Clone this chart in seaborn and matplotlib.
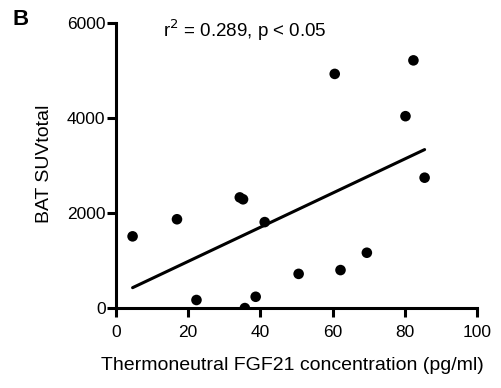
import numpy as np
import pandas as pd
import matplotlib
matplotlib.use("Agg")
import matplotlib.pyplot as plt
import seaborn as sns

# FGF21 (pg/ml) vs BAT SUVtotal
fgf21 = [4.6, 16.9, 22.3, 34.3, 35.2, 35.7, 38.7, 41.2, 50.6, 60.6, 62.2, 69.5, 80.2, 82.4, 85.5]
suv_total = [1510, 1870, 170, 2330, 2290, 0, 238, 1810, 720, 4930, 800, 1165, 4040, 5215, 2745]

df = pd.DataFrame({"FGF21": fgf21, "SUV": suv_total})

sns.set_style("ticks")
plt.rcParams["font.family"] = ["Liberation Sans", "DejaVu Sans"]
plt.rcParams["text.color"] = "black"
plt.rcParams["xtick.color"] = "black"
plt.rcParams["ytick.color"] = "black"
plt.rcParams["axes.labelcolor"] = "black"

fig = plt.figure(figsize=(5.01, 3.88), dpi=100)
ax = fig.add_axes([0.2315, 0.206, 0.7205, 0.7345])

sns.regplot(data=df, x="FGF21", y="SUV", ax=ax, ci=None, color="black",
            scatter_kws={"s": 58, "edgecolor": "none", "alpha": 1, "zorder": 3},
            line_kws={"linewidth": 2.2})

ax.set_xlim(0, 100)
ax.set_ylim(0, 6000)
ax.set_xticks([0, 20, 40, 60, 80, 100])
ax.set_yticks([0, 2000, 4000, 6000])
ax.spines["top"].set_visible(False)
ax.spines["right"].set_visible(False)
for s in ["left", "bottom"]:
    ax.spines[s].set_linewidth(2.2)
    ax.spines[s].set_color("black")
ax.tick_params(width=2.2, length=6.5, labelsize=12.5, color="black")
ax.tick_params(axis="x", pad=6)
ax.tick_params(axis="y", pad=1)

ax.set_xlabel("Thermoneutral FGF21 concentration (pg/ml)", fontsize=14)
ax.set_ylabel("BAT SUVtotal", fontsize=14)
ax.xaxis.set_label_coords(0.489, -0.17)
ax.yaxis.set_label_coords(-0.175, 0.505)

ax.text(0.13, 0.975, "r$^2$ = 0.289, p < 0.05", transform=ax.transAxes,
        fontsize=13.5, va="center", ha="left")
fig.text(0.024, 0.949, "B", fontsize=16, fontweight="bold", va="center", ha="left")

fig.savefig("out.png", dpi=100)
